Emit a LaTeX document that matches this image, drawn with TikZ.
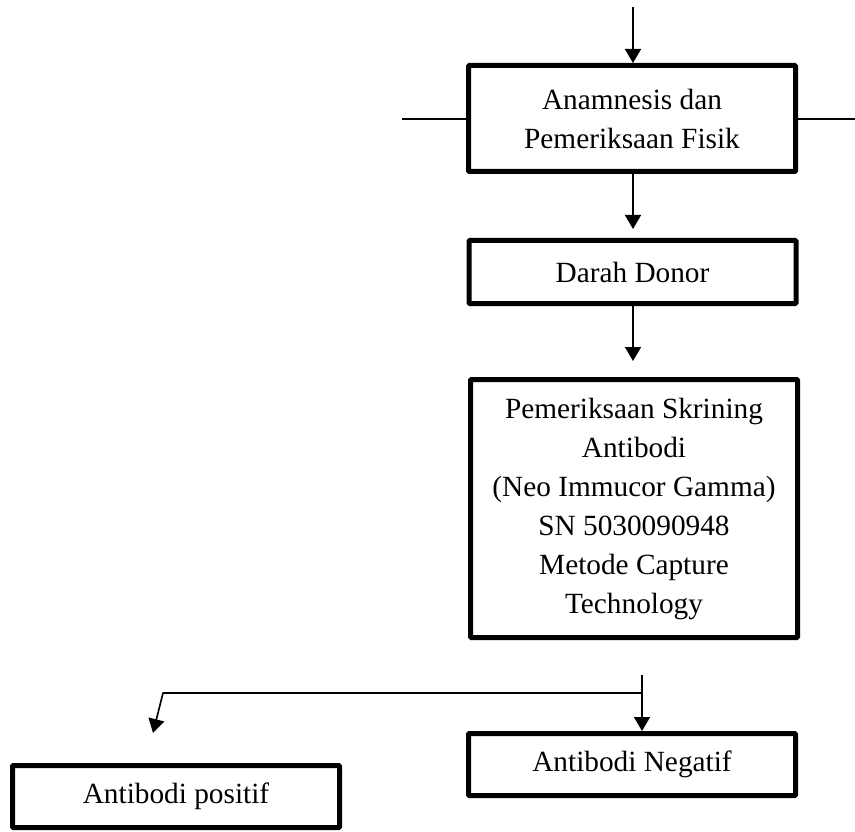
\documentclass[tikz,border=0pt]{standalone}
\usepackage{fontspec}
\setmainfont{Liberation Serif}
\usetikzlibrary{arrows.meta,calc}
\begin{document}
\begin{tikzpicture}[x=1pt,y=-1pt,
  box/.style={draw,line width=5pt,rounded corners=1pt,minimum width=327pt,align=center,inner sep=0pt,
    font=\fontsize{29.3}{39}\selectfont},
  arr/.style={line width=1.6pt,-{Triangle[width=16pt,length=14pt]}},
  ln/.style={line width=1.6pt}]
\useasboundingbox (0,0) rectangle (855,832);
\node[box,minimum height=106pt] (b1) at (632,118.5) {Anamnesis dan\\Pemeriksaan Fisik};
\node[box,minimum height=63pt] (b2) at (632.5,272) {Darah Donor};
\node[box,minimum height=258pt] (b3) at (634,508.5) {Pemeriksaan Skrining\\Antibodi\\(Neo Immucor Gamma)\\SN 5030090948\\Metode Capture\\Technology};
\node[box,minimum height=62pt] (neg) at (632,764.5) {Antibodi Negatif};
\node[box,minimum height=62pt] (pos) at (176,796.5) {Antibodi positif};
\coordinate (top) at (633,7);
\coordinate (lft) at (402,119);
\coordinate (rgt) at (855,119);
\coordinate (split) at (642,675);
\coordinate (junc) at (642,693);
\coordinate (corner) at (163,693);
\coordinate (ptip) at (153,733);
\draw[arr] (top) -- (top |- b1.north);
\draw[ln] (b1.west |- lft) -- (lft);
\draw[ln] (b1.east |- rgt) -- (rgt);
\draw[arr,shorten >=9pt] (b1.south -| top) -- (top |- b2.north);
\draw[arr,shorten >=16pt] (b2.south -| top) -- (top |- b3.north);
\draw[arr] (split) -- (split |- neg.north);
\draw[arr,line join=round] (junc) -- (corner) -- (ptip);
\end{tikzpicture}
\end{document}
